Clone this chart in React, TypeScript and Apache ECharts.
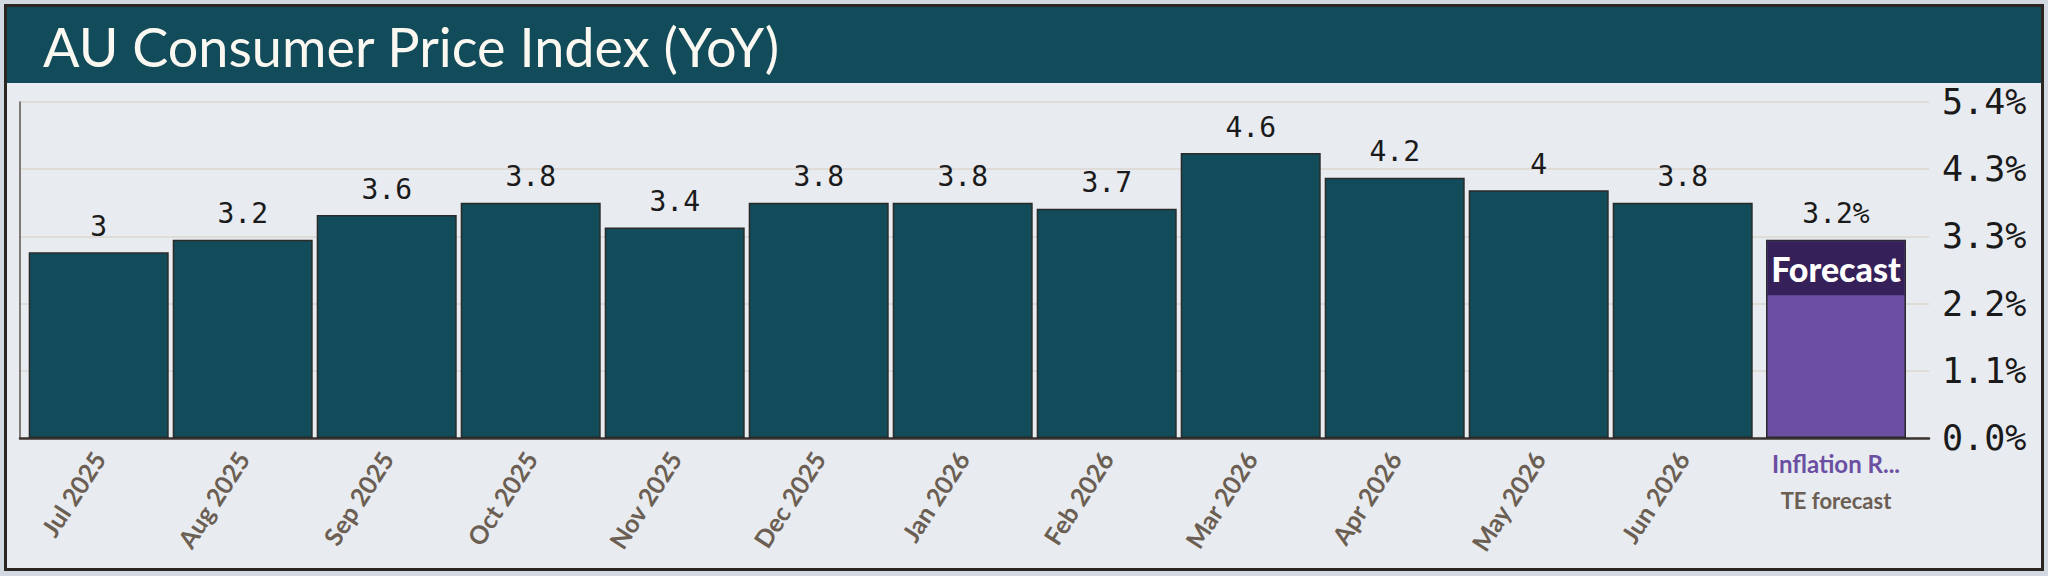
import React, { useEffect, useRef } from "react";
import * as echarts from "echarts";

const TITLE = "AU Consumer Price Index (YoY)";
const months = ["Jul 2025", "Aug 2025", "Sep 2025", "Oct 2025", "Nov 2025", "Dec 2025", "Jan 2026", "Feb 2026", "Mar 2026", "Apr 2026", "May 2026", "Jun 2026"];
const cpiValues = [3, 3.2, 3.6, 3.8, 3.4, 3.8, 3.8, 3.7, 4.6, 4.2, 4, 3.8];
const forecastCategory = ["Inflation R..."];
const forecastSource = "TE forecast";
const forecastValues = [3.2];
const forecastTag = "Forecast";
const yMin = 0;
const yMax = 5.425;
const yInterval = 1.085;

const MONO = "'DejaVu Sans Mono', monospace";
const SANS = "Lato, 'Open Sans', sans-serif";

export default function App() {
  const ref = useRef<HTMLDivElement>(null);
  useEffect(() => {
    if (!ref.current) return;
    const chart = echarts.init(ref.current, null, { renderer: "svg" });
    const top = 102;
    const height = 336;
    const option: any = {
      animation: false,
      backgroundColor: "#d3d9e2",
      title: {
        text: TITLE,
        left: 38,
        top: 14,
        textStyle: { color: "#fbf8f2", fontSize: 54, fontWeight: 400, fontFamily: SANS },
      },
      graphic: [
        { type: "rect", z: -10, shape: { x: 5.5, y: 5.5, width: 2037, height: 564 }, style: { fill: "#e8ebf0", stroke: "#2b2622", lineWidth: 3 } },
        { type: "rect", z: -9, shape: { x: 7, y: 7, width: 2034, height: 76 }, style: { fill: "#124c5a" } },
      ],
      grid: [
        { left: 26.7, top, width: 1728, height },
        { left: 1764, top, width: 144, height },
        { left: 20, top, width: 1909, height },
      ],
      xAxis: [
        {
          type: "category", gridIndex: 0, data: months,
          axisLine: { show: false }, axisTick: { show: false },
          axisLabel: { rotate: 57, margin: 16, color: "#6b5e52", fontSize: 25, fontWeight: 700, fontFamily: SANS },
        },
        {
          type: "category", gridIndex: 1, data: forecastCategory,
          axisLine: { show: false }, axisTick: { show: false },
          axisLabel: {
            margin: 7,
            formatter: (v: string) => `{a|${v}}\n{b|${forecastSource}}`,
            rich: {
              a: { color: "#6b4fa3", fontSize: 24, fontWeight: 700, fontFamily: SANS, lineHeight: 37 },
              b: { color: "#6b5e52", fontSize: 22, fontWeight: 700, fontFamily: SANS, lineHeight: 37 },
            },
          },
        },
        {
          type: "value", gridIndex: 2, min: 0, max: 1,
          axisLine: { show: true, lineStyle: { color: "#3a3330", width: 2.5 } },
          axisTick: { show: false }, axisLabel: { show: false }, splitLine: { show: false },
        },
      ],
      yAxis: [
        { type: "value", gridIndex: 0, min: yMin, max: yMax, show: false, splitLine: { show: false } },
        { type: "value", gridIndex: 1, min: yMin, max: yMax, show: false, splitLine: { show: false } },
        {
          type: "value", gridIndex: 2, position: "right", min: yMin, max: yMax, interval: yInterval,
          axisLine: { show: true, lineStyle: { color: "#5a5550", width: 1.5 } },
          axisTick: { show: false },
          splitLine: { show: true, lineStyle: { color: "#dcd6cf", width: 1.5 } },
          axisLabel: {
            margin: 13, color: "#1a1a1a", fontSize: 35, fontFamily: MONO,
            formatter: (v: number) => v.toFixed(1) + "%",
          },
        },
      ],
      series: [
        {
          type: "bar", xAxisIndex: 0, yAxisIndex: 0, data: cpiValues,
          barWidth: 140,
          itemStyle: { color: "#124c5a", borderColor: "#2a2a2a", borderWidth: 1.5 },
          label: { show: true, position: "top", distance: 12, color: "#1a1a1a", fontSize: 28, fontFamily: MONO },
        },
        {
          type: "bar", xAxisIndex: 1, yAxisIndex: 1, data: forecastValues,
          barWidth: 140,
          itemStyle: { color: "#6b4fa3", borderColor: "#2a2a2a", borderWidth: 1.5 },
          label: {
            show: true, position: "insideTop", distance: 1.5,
            formatter: forecastTag,
            backgroundColor: "#35205a",
            width: 137, height: 54, lineHeight: 54, align: "center",
            color: "#ffffff", fontSize: 34, fontWeight: 900, fontFamily: SANS,
          },
        },
        {
          type: "bar", xAxisIndex: 1, yAxisIndex: 1, data: forecastValues,
          barWidth: 140, barGap: "-100%", z: 1,
          itemStyle: { color: "transparent" },
          label: {
            show: true, position: "top", distance: 12, color: "#1a1a1a", fontSize: 28, fontFamily: MONO,
            formatter: (p: any) => p.value + "%",
          },
        },
      ],
    };
    chart.setOption(option);
    return () => chart.dispose();
  }, []);
  return <div ref={ref} style={{ position: "fixed", left: 0, top: 0, width: 2048, height: 576 }} />;
}
